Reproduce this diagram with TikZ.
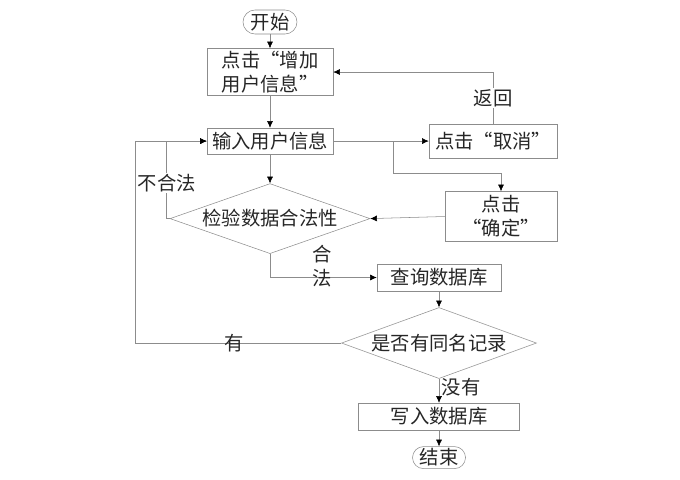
\documentclass[tikz,border=0pt]{standalone}
\usepackage{fontspec}
\newfontfamily\cjk{Noto Sans CJK SC}
\usetikzlibrary{shapes.geometric, arrows.meta, positioning}
\definecolor{linegray}{gray}{0.55}

\begin{document}
\begin{tikzpicture}[x=0.75pt, y=-0.75pt, font=\cjk\fontsize{14.5}{18}\selectfont, text=black!85]
% Define styles
\tikzstyle{terminal} = [rectangle, draw=linegray, inner sep=0pt, minimum height=18pt]
\tikzstyle{box} = [rectangle, draw=linegray, inner sep=0pt, align=center]
\tikzstyle{decision} = [diamond, draw=linegray, inner sep=0pt, aspect=2.8]
\tikzstyle{arrow} = [draw=linegray, -{Latex[color=black, length=5pt, width=4.5pt]}]
\tikzstyle{tag} = [fill=white, inner sep=1pt]

\useasboundingbox (0,0) rectangle (680,479);

% Start
\node (start) [terminal, rounded corners=9pt, minimum width=40.5pt] at (270,22) {开始};
\node (addinfo) [box, minimum width=94.5pt, minimum height=35.25pt, below=10.5pt of start] {点击“增加\\用户信息”};
\draw [arrow] (start) -- (addinfo);

% Input
\node (input) [box, minimum width=94.5pt, minimum height=19.5pt, below=24pt of addinfo] {输入用户信息};
\draw [arrow] (addinfo) -- (input);

% Cancel / confirm
\node (cancel) [box, minimum width=96pt, minimum height=25.5pt] at (493,141) {点击“取消”};
\node (confirm) [box, minimum width=84pt, minimum height=37.5pt] at (501,216.5) {点击\\“确定”};
\coordinate [right=45pt of input.east] (split);
\draw [arrow] (input.east) -- (input.east -| cancel.west);
\draw [arrow] (split) -- ++(0,32) -| (confirm.north);
\draw [arrow] (cancel.north) |- node[tag, pos=0.25] {返回} (addinfo.east);

% Check
\node (check) [decision, minimum width=150pt, minimum height=52.5pt, below=21.75pt of input] {检验数据合法性};
\draw [arrow] (input) -- (check);
\draw [arrow] (confirm.west) -- (check.east);
\draw [arrow] (check.west) -- ++(-3,0) |- node[tag, pos=0.23] {不合法} (input.west);

% Query
\node (query) [box, minimum width=93pt, minimum height=20.25pt] at (439,277.5) {查询数据库};
\draw [arrow] (check.south) |- node[pos=0.745, yshift=8.5pt, align=center, inner sep=0pt] {合\\法} (query.west);

\node (dupcheck) [decision, minimum width=146.25pt, minimum height=53.25pt, below=12pt of query] {是否有同名记录};
\draw [arrow] (query) -- (dupcheck);
\draw [arrow] (dupcheck.west) -- node[pos=0.52, inner sep=0pt] {有} ++(-206,0) |- (input.west);

% Write
\node (write) [box, minimum width=120.75pt, minimum height=20.25pt, below=18pt of dupcheck] {写入数据库};
\draw [arrow] (dupcheck) -- node[right, pos=0.35, inner sep=2pt] {没有} (write);

% End
\node (stop) [terminal, rounded corners=8.25pt, minimum width=39.75pt, minimum height=16.5pt, below=12pt of write] {结束};
\draw [arrow] (write) -- (stop);
\end{tikzpicture}
\end{document}
